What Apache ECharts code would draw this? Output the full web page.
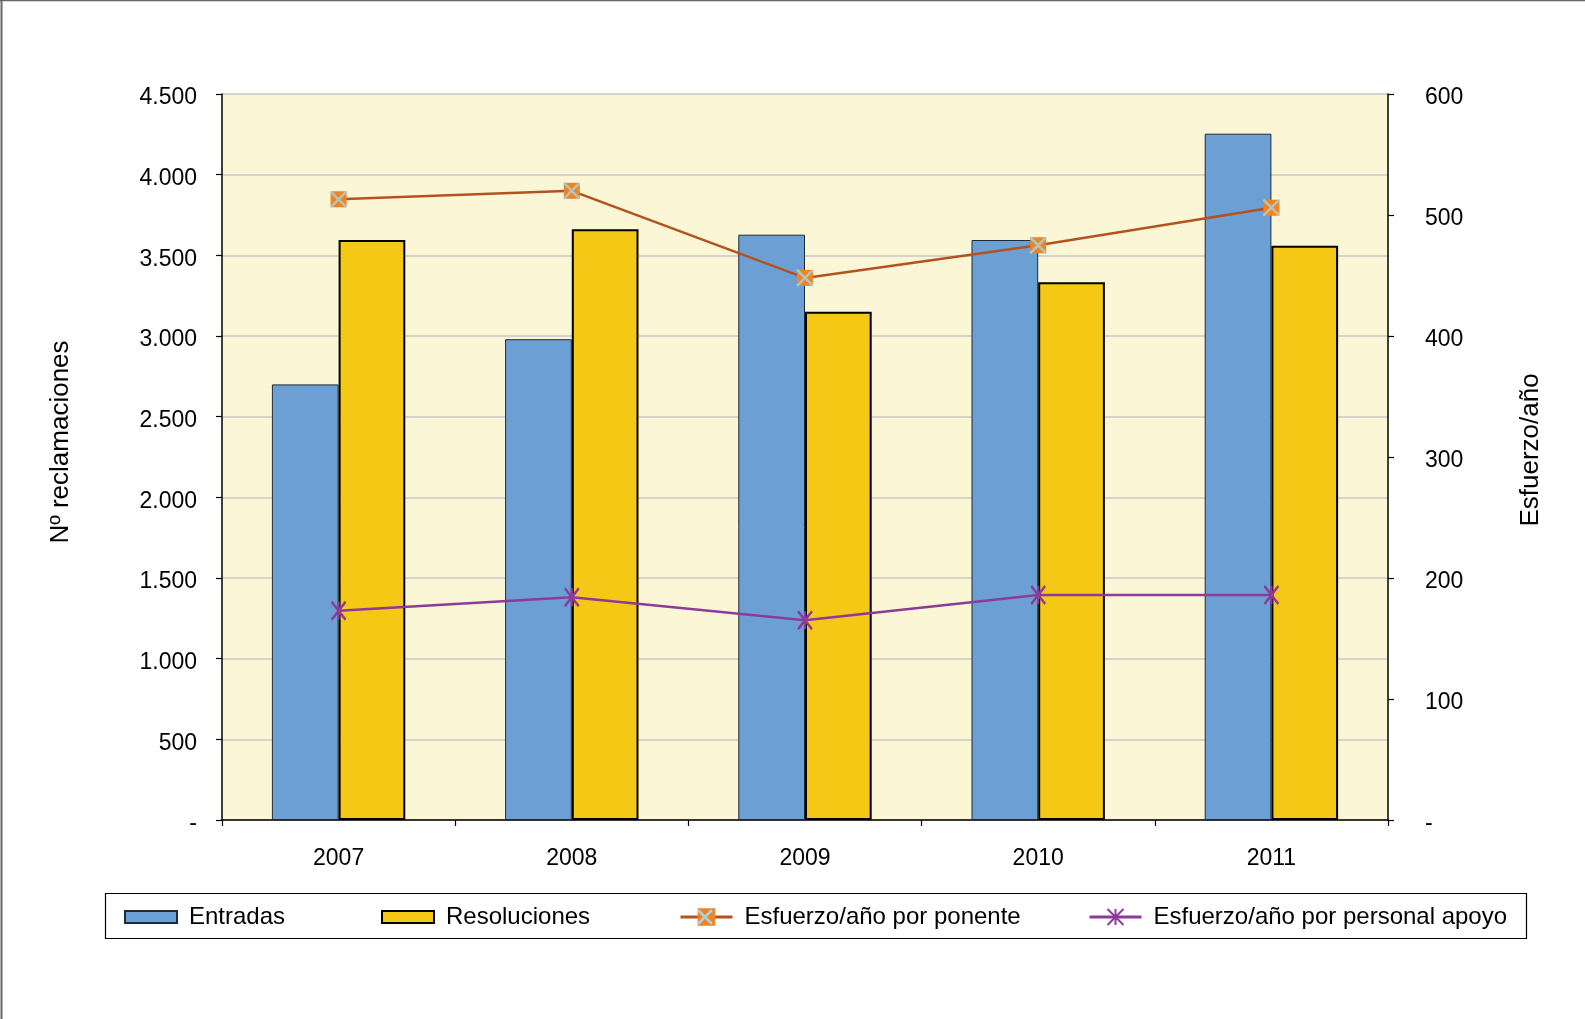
<!DOCTYPE html>
<html>
<head>
<meta charset="utf-8">
<script src="https://cdn.jsdelivr.net/npm/echarts@6/dist/echarts.min.js"></script>
<style>
html,body{margin:0;padding:0;background:#fff;}
#chart{width:1585px;height:1019px;}
</style>
</head>
<body>
<div id="chart"></div>
<script>
var categories = ['2007', '2008', '2009', '2010', '2011'];
var entradas = [2700, 2980, 3628, 3595, 4254];
var resoluciones = [3595, 3661, 3151, 3333, 3560];
var esfuerzoPonente = [513, 520, 448, 475, 506];
var esfuerzoApoyo = [173, 184, 165, 186, 186];
var leftTicks = { min: 0, max: 4500, interval: 500 };
var rightTicks = { min: 0, max: 600, interval: 100 };

var FONT = '"Liberation Sans", Arial, sans-serif';
var chart = echarts.init(document.getElementById('chart'), null, { renderer: 'canvas' });

function fmtLeft(v) {
  var s = (v === 0) ? '-' : String(v).replace(/\B(?=(\d{3})+(?!\d))/g, '.');
  return '{a|' + s + '}';
}
function fmtRight(v) {
  var s = (v === 0) ? '-' : String(v);
  return '{a|' + s + '}';
}
var richLabel = { a: { fontFamily: FONT, fontSize: 23, color: '#000', padding: [8, 0, 0, 0] } };

var legendText = { fontFamily: FONT, fontSize: 24, color: '#000', padding: [0, 0, 0, 7], lineHeight: 26 };
function mkLegend(name, left, w, h, icon) {
  return {
    data: [icon ? { name: name, icon: icon } : name], left: left, top: 904, padding: 0,
    itemWidth: w, itemHeight: h, textStyle: legendText,
    selectedMode: false,
    lineStyle: { width: 3 }
  };
}

var option = {
  animation: false,
  backgroundColor: '#ffffff',
  textStyle: { fontFamily: FONT },
  grid: {
    left: 222, right: 197, top: 94, bottom: 199,
    containLabel: false,
    show: true, backgroundColor: '#FBF6D6', borderWidth: 0
  },
  legend: [
    mkLegend('Entradas', 124, 52, 12, 'rect'),
    mkLegend('Resoluciones', 381, 52, 12, 'rect'),
    mkLegend('Esfuerzo/año por ponente', 679, 52, 22),
    mkLegend('Esfuerzo/año por personal apoyo', 1088, 52, 20)
  ],
  xAxis: {
    type: 'category',
    data: categories,
    boundaryGap: true,
    axisLine: { show: true, lineStyle: { color: '#000', width: 1.5 } },
    axisTick: { show: true, length: 6, lineStyle: { color: '#000', width: 1.2 } },
    axisLabel: { color: '#000', fontSize: 23, fontFamily: FONT, margin: 27 },
    splitLine: { show: false }
  },
  yAxis: [
    {
      type: 'value',
      min: leftTicks.min, max: leftTicks.max, interval: leftTicks.interval,
      axisLine: { show: true, lineStyle: { color: '#000', width: 1.5 } },
      axisTick: { show: true, length: 6, lineStyle: { color: '#000', width: 1.2 } },
      axisLabel: { color: '#000', fontSize: 23, fontFamily: FONT, margin: 25, formatter: fmtLeft, rich: richLabel },
      splitLine: { show: true, lineStyle: { color: '#C8C8C8', width: 1.5 } }
    },
    {
      type: 'value',
      min: rightTicks.min, max: rightTicks.max, interval: rightTicks.interval,
      position: 'right',
      axisLine: { show: true, lineStyle: { color: '#000', width: 1.5 } },
      axisTick: { show: true, length: 6, lineStyle: { color: '#000', width: 1.2 } },
      axisLabel: { color: '#000', fontSize: 23, fontFamily: FONT, margin: 37, formatter: fmtRight, rich: richLabel },
      splitLine: { show: false }
    }
  ],
  series: [
    {
      name: 'Entradas', type: 'bar', data: entradas, yAxisIndex: 0,
      barWidth: '28.6%', barGap: '0%',
      itemStyle: { color: '#6CA0D5', borderColor: '#1E2A36', borderWidth: 1 }
    },
    {
      name: 'Resoluciones', type: 'bar', data: resoluciones, yAxisIndex: 0,
      barWidth: '28.6%', barGap: '0%',
      itemStyle: { color: '#F5C815', borderColor: '#000', borderWidth: 2 }
    },
    {
      name: 'Esfuerzo/año por ponente', type: 'line', data: esfuerzoPonente, yAxisIndex: 1,
      symbol: 'rect', symbolSize: 16,
      lineStyle: { color: '#B4521F', width: 2.5 },
      itemStyle: { color: '#EE8422' },
      z: 5
    },
    {
      name: 'ponenteX', type: 'scatter', data: esfuerzoPonente, yAxisIndex: 1,
      symbol: 'path://M0 0L10 10M10 0L0 10', symbolSize: 16,
      itemStyle: { color: 'rgba(0,0,0,0)', borderColor: '#A9D3DD', borderWidth: 2.5 },
      silent: true, z: 6
    },
    {
      name: 'Esfuerzo/año por personal apoyo', type: 'line', data: esfuerzoApoyo, yAxisIndex: 1,
      symbol: 'path://M0 0L10 14M10 0L0 14M5 0L5 14', symbolSize: [14, 18],
      lineStyle: { color: '#8E3A98', width: 2.5 },
      itemStyle: { color: 'rgba(0,0,0,0)', borderColor: '#8E3A98', borderWidth: 2.5 },
      z: 5
    }
  ],
  graphic: [
    { type: 'line', shape: { x1: 0, y1: 0.5, x2: 1585, y2: 0.5 }, style: { stroke: '#666', lineWidth: 1.5 }, silent: true },
    { type: 'line', shape: { x1: 1.5, y1: 0, x2: 1.5, y2: 1019 }, style: { stroke: '#666', lineWidth: 2 }, silent: true },
    { type: 'rect', shape: { x: 105.5, y: 893.5, width: 1421, height: 45 }, style: { fill: 'none', stroke: '#000', lineWidth: 1.2 }, silent: true, z: -1 },
    { type: 'line', shape: { x1: 698, y1: 910, x2: 712, y2: 924 }, style: { stroke: '#A9D3DD', lineWidth: 2.5 }, silent: true, z: 100 },
    { type: 'line', shape: { x1: 712, y1: 910, x2: 698, y2: 924 }, style: { stroke: '#A9D3DD', lineWidth: 2.5 }, silent: true, z: 100 },
    {
      type: 'text', x: 61, y: 442, rotation: Math.PI / 2,
      style: { text: 'Nº reclamaciones', fontFamily: FONT, fontSize: 26, fill: '#000', textAlign: 'center', textVerticalAlign: 'middle' },
      silent: true
    },
    {
      type: 'text', x: 1531, y: 450, rotation: Math.PI / 2,
      style: { text: 'Esfuerzo/año', fontFamily: FONT, fontSize: 26, fill: '#000', textAlign: 'center', textVerticalAlign: 'middle' },
      silent: true
    }
  ]
};
chart.setOption(option);
</script>
</body>
</html>
